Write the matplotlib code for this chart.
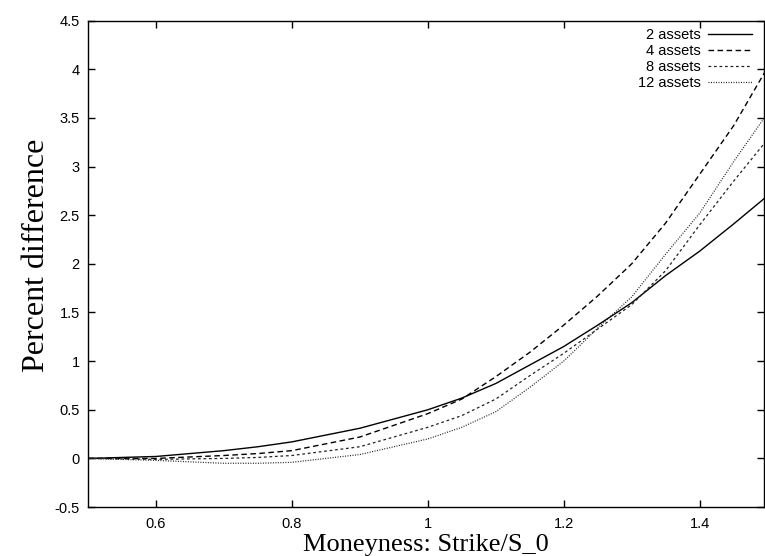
import matplotlib
matplotlib.use('Agg')
from matplotlib import pyplot as plt
from matplotlib.ticker import FormatStrFormatter, MultipleLocator
import numpy as np

# moneyness values
moneyness = [0.5, 0.6, 0.7, 0.75, 0.8, 0.9, 1.0, 1.05, 1.1, 1.15, 1.2, 1.25, 1.3, 1.35, 1.4, 1.45, 1.5]

# percent difference for each basket size
assets_2 = [0.0, 0.02, 0.08, 0.12, 0.17, 0.31, 0.50, 0.62, 0.77, 0.96, 1.15, 1.37, 1.60, 1.88, 2.13, 2.41, 2.70]
assets_4 = [0.0, 0.0, 0.03, 0.05, 0.08, 0.22, 0.46, 0.61, 0.84, 1.09, 1.37, 1.67, 2.00, 2.42, 2.92, 3.42, 4.02]
assets_8 = [0.0, -0.01, 0.0, 0.01, 0.03, 0.12, 0.32, 0.44, 0.61, 0.85, 1.08, 1.33, 1.58, 1.93, 2.40, 2.85, 3.28]
assets_12 = [0.0, -0.02, -0.05, -0.05, -0.04, 0.04, 0.20, 0.32, 0.48, 0.73, 1.00, 1.34, 1.66, 2.10, 2.52, 3.05, 3.55]

labels = ['2 assets', '4 assets', '8 assets', '12 assets']

plt.rcParams['font.family'] = ['Liberation Sans', 'DejaVu Sans']

fig = plt.figure(figsize=(7.65, 5.56), dpi=100)
ax = fig.add_axes([0.115, 0.088, 0.884, 0.875])

ax.plot(moneyness, assets_2, color='black', lw=1.0, linestyle='-', label=labels[0])
ax.plot(moneyness, assets_4, color='black', lw=1.0, linestyle=(0, (4, 2.5)), label=labels[1])
ax.plot(moneyness, assets_8, color='#222222', lw=0.9, linestyle=(0, (2.2, 2.2)), label=labels[2])
ax.plot(moneyness, assets_12, color='#222222', lw=0.9, linestyle=(0, (0.8, 1.2)), label=labels[3])

ax.set_xlim(0.5, 1.495)
ax.set_ylim(-0.5, 4.5)
ax.yaxis.set_major_locator(MultipleLocator(0.5))
ax.xaxis.set_major_formatter(FormatStrFormatter('%g'))
ax.yaxis.set_major_formatter(FormatStrFormatter('%g'))
ax.set_xticks([0.6, 0.8, 1.0, 1.2, 1.4])

ax.tick_params(direction='in', length=5, width=1, top=True, right=True, labelsize=10.5)
ax.tick_params(axis='x', pad=7)
ax.tick_params(axis='y', pad=6)
for s in ax.spines.values():
    s.set_linewidth(1.0)

ax.set_xlabel('Moneyness: Strike/S_0', family='Liberation Serif', fontsize=19, labelpad=2)
ax.set_ylabel('Percent difference', family='Liberation Serif', fontsize=23)
ax.yaxis.set_label_coords(-0.054, 0.518)

leg = ax.legend(loc='upper right', bbox_to_anchor=(0.993, 1.0), frameon=False,
                markerfirst=False, fontsize=10.5, handlelength=3.0, handletextpad=0.55,
                labelspacing=0.15, borderaxespad=0.1)

fig.savefig('out.png', dpi=100)
